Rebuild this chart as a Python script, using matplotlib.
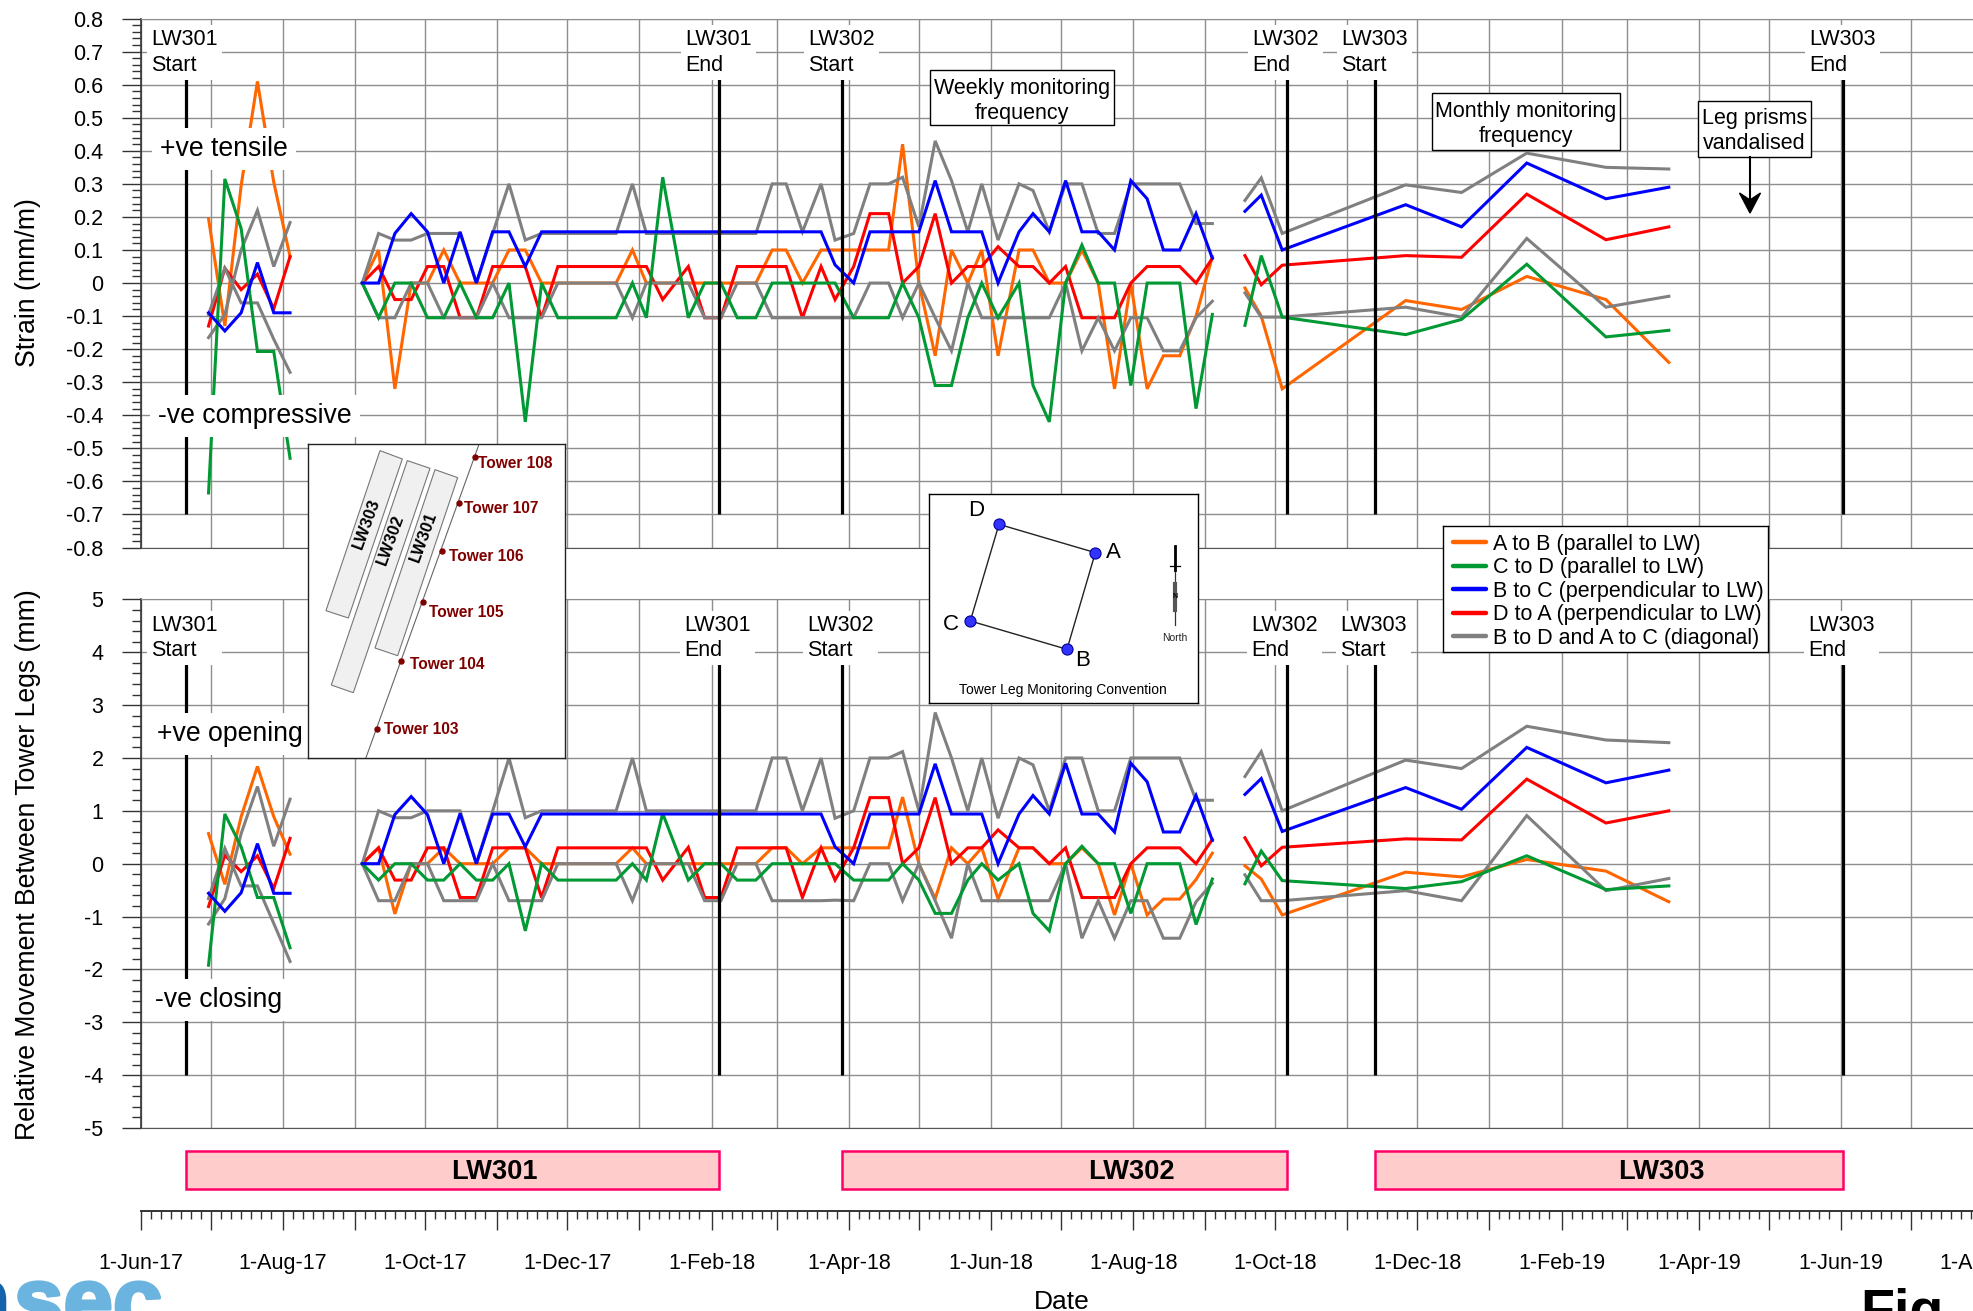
import datetime as dt
import numpy as np
import matplotlib
matplotlib.use("Agg")
import matplotlib.pyplot as plt
import matplotlib.dates as mdates
import matplotlib.patheffects as pe
from matplotlib.lines import Line2D
from matplotlib.patches import Rectangle, Polygon
from matplotlib.ticker import MultipleLocator, FixedLocator, FuncFormatter

plt.rcParams['font.family'] = ['Liberation Sans', 'DejaVu Sans']

n = np.nan
# days since 1-Jun-17 of each survey; the nan rows in the series break the lines
survey_days = [29, 36, 43, 50, 57, 64, 80,
               95, 102, 109, 116, 123, 130, 137, 144, 151, 158, 165, 172, 179, 204, 211, 217, 224, 235, 242, 249, 256, 264, 271, 277, 284,
               292, 298, 306, 313, 321, 327, 334, 341, 348, 355, 361, 368, 377, 383, 390, 397, 404, 411, 418, 425, 432, 439, 446, 453, 460,
               467, 474, 481, 490, 543, 567, 595, 629, 656]

strain_ab = [.195, -.13, .295, .61, .305, .08, n,
             0, .1, -.32, 0, 0, .1, 0, 0, 0, .1, .1, 0, 0, 0, .1, 0, 0, 0, 0, 0, 0, 0, .1, .1, 0,
             .1, .1, .1, .1, .1, .42, 0, -.22, .1, 0, .1, -.22, .1, .1, 0, 0, .1, 0, -.32, 0, -.32, -.22, -.22, -.1, .08,
             n, -.015, -.1, -.32, -.053, -.08, .02, -.05, -.24]
strain_cd = [-.635, .315, .165, -.207, -.207, -.53, n,
             0, -.105, 0, 0, -.105, -.105, 0, -.105, -.105, 0, -.42, 0, -.105, -.105, 0, -.105, .32, -.105, 0, 0, -.105, -.105, 0, 0, 0,
             0, 0, -.105, -.105, -.105, 0, -.105, -.31, -.31, -.105, 0, -.105, 0, -.31, -.42, 0, .115, 0, 0, -.31, 0, 0, 0, -.38, -.095,
             n, -.128, .083, -.103, -.156, -.11, .057, -.163, -.143]
strain_bc = [-.09, -.145, -.09, .062, -.09, -.09, n,
             0, 0, .15, .21, .155, 0, .155, 0, .155, .155, .05, .155, .155, .155, .155, .155, .155, .155, .155, .155, .155, .155, .155, .155, .155,
             .155, .055, 0, .155, .155, .155, .155, .31, .155, .155, .155, 0, .155, .21, .155, .31, .155, .155, .1, .31, .255, .1, .1, .21, .075,
             n, .217, .266, .1, .237, .17, .363, .255, .29]
strain_da = [-.13, .045, -.02, .027, -.078, .08, n,
             0, .05, -.05, -.05, .05, .05, -.105, -.105, .05, .05, .05, -.105, .05, .05, .05, .05, -.05, .05, -.105, -.105, .05, .05, .05, .05, -.105,
             .05, -.05, .05, .21, .21, 0, .05, .21, 0, .05, .05, .11, .05, .05, 0, .05, -.105, -.105, -.105, 0, .05, .05, .05, 0, .075,
             n, .083, -.005, .054, .083, .078, .269, .131, .17]
strain_diag1 = [-.165, -.095, .1, .22, .05, .183, n,
                0, .15, .13, .13, .15, .15, .15, 0, .15, .3, .13, .15, .15, .15, .3, .15, .15, .15, .15, .15, .15, .15, .3, .3, .155,
                .3, .13, .15, .3, .3, .32, .17, .43, .31, .155, .3, .13, .3, .28, .155, .3, .3, .15, .15, .3, .3, .3, .3, .18, .18,
                n, .25, .318, .15, .297, .274, .393, .35, .345]
strain_diag2 = [-.095, .045, -.06, -.06, -.17, -.27, n,
                0, -.105, -.105, 0, 0, -.105, -.105, -.105, 0, -.105, -.105, -.105, 0, 0, -.105, 0, 0, 0, -.105, -.105, 0, 0, -.105, -.105, -.105,
                -.105, -.105, -.105, 0, 0, -.105, 0, -.105, -.205, 0, -.105, -.105, -.105, -.105, -.105, 0, -.205, -.105, -.205, -.105, -.105, -.205, -.205, -.105, -.055,
                n, -.03, -.103, -.103, -.073, -.103, .135, -.073, -.04]

move_ab = [.57, -.39, .89, 1.84, .89, .18, n,
           0, .3, -.95, 0, 0, .3, 0, 0, 0, .3, .3, 0, 0, 0, .3, 0, 0, 0, 0, 0, 0, 0, .3, .3, 0,
           .3, .3, .3, .3, .3, 1.26, 0, -.66, .3, 0, .3, -.67, .3, .3, 0, 0, .3, 0, -.97, 0, -.97, -.67, -.67, -.3, .2,
           n, -.04, -.29, -.97, -.16, -.25, .08, -.14, -.72]
move_cd = [-1.92, .94, .32, -.64, -.64, -1.59, n,
           0, -.31, 0, 0, -.31, -.31, 0, -.31, -.31, 0, -1.27, 0, -.31, -.31, 0, -.31, .95, -.31, 0, 0, -.31, -.31, 0, 0, 0,
           0, 0, -.31, -.31, -.31, 0, -.31, -.94, -.94, -.31, 0, -.31, 0, -.94, -1.27, 0, .33, 0, 0, -.94, 0, 0, 0, -1.15, -.29,
           n, -.38, .24, -.32, -.47, -.34, .15, -.49, -.42]
move_bc = [-.56, -.9, -.55, .38, -.56, -.56, n,
           0, 0, .93, 1.27, .93, 0, .95, 0, .94, .94, .32, .94, .94, .94, .94, .94, .94, .94, .94, .94, .94, .94, .94, .94, .94,
           .94, .32, 0, .94, .94, .94, .94, 1.89, .94, .94, .94, 0, .94, 1.29, .94, 1.9, .94, .94, .6, 1.9, 1.55, .6, .6, 1.29, .44,
           n, 1.31, 1.61, .61, 1.44, 1.03, 2.2, 1.53, 1.77]
move_da = [-.81, .16, -.15, .15, -.47, .48, n,
           0, .3, -.31, -.31, .3, .3, -.64, -.64, .3, .3, .3, -.64, .3, .3, .3, .3, -.31, .31, -.64, -.64, .3, .3, .3, .3, -.64,
           .3, -.31, .3, 1.25, 1.25, 0, .3, 1.25, 0, .3, .3, .64, .3, .3, 0, .3, -.64, -.64, -.64, 0, .3, .3, .3, 0, .46,
           n, .49, -.04, .31, .47, .45, 1.6, .77, 1.0]
move_diag1 = [-1.14, -.66, .57, 1.46, .33, 1.22, n,
              0, 1, .87, .87, 1, 1, 1, 0, 1, 2, .87, 1, 1, 1, 2, 1, 1, 1, 1, 1, 1, 1, 2, 2, 1,
              2, .86, 1, 2, 2, 2.12, 1, 2.86, 2, 1, 2, .86, 2, 1.87, 1, 2, 2, 1, 1, 2, 2, 2, 2, 1.2, 1.2,
              n, 1.65, 2.12, 1.0, 1.96, 1.8, 2.6, 2.34, 2.29]
move_diag2 = [-.66, .29, -.42, -.42, -1.13, -1.85, n,
              0, -.7, -.7, 0, 0, -.7, -.7, -.7, 0, -.7, -.7, -.7, 0, 0, -.7, 0, 0, 0, -.7, -.7, 0, 0, -.7, -.7, -.7,
              -.7, -.69, -.7, 0, 0, -.7, 0, -.7, -1.41, 0, -.7, -.7, -.7, -.7, -.7, 0, -1.41, -.7, -1.41, -.7, -.7, -1.41, -1.41, -.72, -.37,
              n, -.21, -.7, -.7, -.51, -.7, .91, -.51, -.28]

wall_names = ['LW301', 'LW302', 'LW303']
wall_start_days = [19.4, 301.2, 530]
wall_end_days = [248.3, 492, 731]

tower_names = ['Tower 108', 'Tower 107', 'Tower 106', 'Tower 105', 'Tower 104', 'Tower 103']
legend_labels = ['A to B (parallel to LW)', 'C to D (parallel to LW)', 'B to C (perpendicular to LW)',
                 'D to A (perpendicular to LW)', 'B to D and A to C (diagonal)']

ORANGE, GREEN, BLUE, RED, GREY = '#FF6600', '#009933', '#0000FF', '#FF0000', '#808080'
GRID = '#8e8e8e'
FS = 15.5
LS = 1.27

W, H = 1973, 1311
fig = plt.figure(figsize=(W / 100, H / 100), dpi=100, facecolor='white')


def px_axes(left, top, right, bottom, **kw):
    return fig.add_axes([left / W, 1 - bottom / H, (right - left) / W, (bottom - top) / H], **kw)


D0 = mdates.date2num(dt.date(2017, 6, 1))
X_L, PX_DAY = 141.0, 2.329
N_DAYS = 800
X_R = X_L + N_DAYS * PX_DAY
x = D0 + np.array(survey_days, dtype=float)

months = mdates.MonthLocator()


def style_panel(ax, ymin, ymax, major, minor, fmt):
    ax.set_xlim(D0, D0 + N_DAYS)
    ax.set_ylim(ymin, ymax)
    ax.xaxis.set_major_locator(months)
    ax.yaxis.set_major_locator(MultipleLocator(major))
    ax.yaxis.set_minor_locator(MultipleLocator(minor))
    ax.yaxis.set_major_formatter(FuncFormatter(fmt))
    ax.tick_params(axis='x', which='both', length=0, labelbottom=False)
    ax.tick_params(axis='y', which='major', length=14, width=1, pad=13, labelsize=FS, color='#333333')
    ax.tick_params(axis='y', which='minor', length=6.2, width=1, color='#333333')
    ax.grid(True, which='major', color=GRID, lw=1.0)
    ax.set_axisbelow(True)
    ax.spines['right'].set_visible(False)
    ax.spines['top'].set_color(GRID)
    ax.spines['bottom'].set_color('#555555')
    ax.spines['left'].set_color('#333333')
    ax.spines['left'].set_linewidth(1.2)


def draw_series(ax, ab, cd, bc, da, d1, d2, line_top, line_bottom):
    for vals, col, z in [(ab, ORANGE, 3), (da, RED, 4), (d1, GREY, 5), (d2, GREY, 5), (cd, GREEN, 6), (bc, BLUE, 7)]:
        ax.plot(x, np.array(vals, dtype=float), color=col, lw=2.2, zorder=z, solid_joinstyle='miter')
    for d in wall_start_days + wall_end_days:
        ax.plot([D0 + d, D0 + d], [line_bottom, line_top], color='black', lw=2.3, zorder=8, solid_capstyle='butt')


ax1 = px_axes(X_L, 18.6, X_R, 547.5)
style_panel(ax1, -0.8, 0.8, 0.1, 0.02, lambda v, p: '0' if abs(v) < 1e-9 else f'{v:.1f}')
draw_series(ax1, strain_ab, strain_cd, strain_bc, strain_da, strain_diag1, strain_diag2, 0.63, -0.7)

ax2 = px_axes(X_L, 599.4, X_R, 1128)
style_panel(ax2, -5, 5, 1, 0.2, lambda v, p: f'{v:.0f}'.replace('-0', '0'))
draw_series(ax2, move_ab, move_cd, move_bc, move_da, move_diag1, move_diag2, 3.84, -4)

# mining panel bars
ax3 = px_axes(X_L, 1150.7, X_R, 1189)
ax3.set_xlim(D0, D0 + N_DAYS)
ax3.set_ylim(0, 1)
ax3.axis('off')
ax3.barh([0.5] * 3, np.array(wall_end_days) - np.array(wall_start_days), left=D0 + np.array(wall_start_days),
         height=1, facecolor='#FFCCCC', edgecolor='#FF0066', linewidth=1.8, clip_on=False)

# date axis
ax4 = px_axes(X_L, 1210, X_R, 1211)
ax4.set_xlim(D0, D0 + N_DAYS)
ax4.set_yticks([])
for s in ['top', 'left', 'right']:
    ax4.spines[s].set_visible(False)
ax4.spines['bottom'].set_color('#333333')
ax4.spines['bottom'].set_linewidth(1.4)
ax4.xaxis.set_major_locator(months)
ax4.xaxis.set_major_formatter(FuncFormatter(
    lambda v, p: (lambda d: f'1-{d:%b}-{d:%y}' if d.month % 2 == 0 else '')(mdates.num2date(v))))
month_starts = [mdates.date2num(dt.date(2017 + (5 + i) // 12, (5 + i) % 12 + 1, 1)) for i in range(28)]
minor_positions = []
for a, b in zip(month_starts[:-1], month_starts[1:]):
    minor_positions += [a + k * 30 / 7 for k in range(1, 8) if a + k * 30 / 7 < b - 1]
ax4.xaxis.set_minor_locator(FixedLocator(minor_positions))
ax4.tick_params(axis='x', which='major', length=13.7, width=1, pad=16.5, labelsize=FS, color='#333333')
ax4.tick_params(axis='x', which='minor', length=6, width=1, color='#333333')

# overlay in pixel coordinates for annotations
ov = px_axes(0, 0, W, H, zorder=10)
ov.set_xlim(0, W)
ov.set_ylim(H, 0)
ov.axis('off')
ov.patch.set_alpha(0)

white = dict(facecolor='white', edgecolor='none', pad=3)


def block(x0, yc, s, fs=FS, box=white):
    return ov.text(x0, yc, s, fontsize=fs, ha='left', va='center', linespacing=LS, bbox=box, color='black')


for x0, yc, s in [(151.5, 52.5, 'LW301\nStart'), (685.5, 52.5, 'LW301\nEnd'), (808.5, 52.5, 'LW302\nStart'),
                  (1252.5, 52.5, 'LW302\nEnd'), (1341, 52.5, 'LW303\nStart'), (1809, 52.5, 'LW303\nEnd'),
                  (151.5, 638, 'LW301\nStart'), (684, 638, 'LW301\nEnd'), (807.5, 638, 'LW302\nStart'),
                  (1251.5, 638, 'LW302\nEnd'), (1340, 638, 'LW303\nStart'), (1808, 638, 'LW303\nEnd')]:
    block(x0, yc, s)

pad_box = dict(facecolor='white', edgecolor='none', pad=6)
block(160, 149, '+ve tensile', 19.2, pad_box)
block(158, 416, '-ve compressive', 19.2, pad_box)
block(157, 734, '+ve opening', 19.2, pad_box)
block(155, 1000, '-ve closing', 19.2, pad_box)

for (l, t, r, b, s, dy) in [(930, 70, 1114, 125, 'Weekly monitoring\nfrequency', 3.5),
                            (1432, 93, 1620, 149.5, 'Monthly monitoring\nfrequency', 2.5),
                            (1698, 101, 1811, 157, 'Leg prisms\nvandalised', 2)]:
    ov.add_patch(Rectangle((l, t), r - l, b - t, facecolor='white', edgecolor='black', lw=1))
    ov.text((l + r) / 2, (t + b) / 2 + dy, s, fontsize=FS, ha='center', va='center', linespacing=LS)

ov.plot([1750, 1750], [157, 205], color='black', lw=1.5)
ov.add_patch(Polygon([(1750, 213), (1739.5, 193), (1750, 200), (1760.5, 193)], closed=True, color='black'))

for name, xc in zip(wall_names, [494.5, 1131, 1661]):
    ov.text(xc, 1172, name, fontsize=19.6, fontweight='bold', ha='center', va='center')

ov.text(28, 283, 'Strain (mm/m)', fontsize=19.2, rotation=90, ha='center', va='center')
ov.text(28, 865, 'Relative Movement Between Tower Legs (mm)', fontsize=19.2, rotation=90, ha='center', va='center')
ov.text(1061.5, 1309, 'Date', fontsize=19, ha='center', va='baseline')

# cropped logo and figure caption at the page edge
ov.text(14, 1330, 'sec', fontsize=64, fontweight='bold', color='#6CB4E0', ha='left', va='baseline',
        path_effects=[pe.withStroke(linewidth=2.5, foreground='#6CB4E0')])
ov.text(10, 1330, 'm', fontsize=64, fontweight='bold', color='#1464AC', ha='right', va='baseline',
        path_effects=[pe.withStroke(linewidth=2.5, foreground='#1464AC')])
ov.text(1860, 1328, 'Fig', fontsize=40, fontweight='bold', color='black', ha='left', va='baseline')

# legend
handles = [Line2D([0], [0], color=c, lw=3.2, solid_capstyle='round') for c in [ORANGE, GREEN, BLUE, RED, GREY]]
leg_ax = px_axes(1443.3, 525.7, 1768, 651.7, zorder=12)
leg_ax.set_xticks([])
leg_ax.set_yticks([])
for sp in leg_ax.spines.values():
    sp.set_linewidth(1.0)
    sp.set_color('black')
leg_ax.legend(handles, legend_labels, loc='center left', bbox_to_anchor=(0, 0.48), frameon=False, fontsize=FS,
              handlelength=1.53, handletextpad=0.33, labelspacing=0.12, borderaxespad=0, borderpad=0.45)

# inset: site plan, coordinates of the drawing
m = px_axes(308.3, 444.3, 564.7, 757.7, zorder=11)
m.set_xlim(25, 794)
m.set_ylim(953, 13)
m.set_xticks([])
m.set_yticks([])
for sp in m.spines.values():
    sp.set_linewidth(1.0)
    sp.set_color('#222222')
for poly in [[(240, 32), (307, 57), (145, 534), (78, 512)],
             [(322, 62), (390, 85), (160, 758), (94, 735)],
             [(405, 89), (473, 113), (293, 647), (225, 624)]]:
    m.add_patch(Polygon(poly, closed=True, facecolor='#F0F0F0', edgecolor='#777777', lw=0.8))
m.plot([537, 198], [13, 953], color='#666666', lw=0.8)
tower_dots_x = [524, 477, 425, 368, 302, 230]
tower_dots_y = [50, 188, 332, 487, 664, 867]
tower_label_x = [535, 493, 447, 387, 329, 251]
tower_label_y = [72, 207, 351, 516, 672, 867]
m.plot(tower_dots_x, tower_dots_y, 'o', color='#800000', ms=3.6, ls='none')
for name, tx, ty in zip(tower_names, tower_label_x, tower_label_y):
    m.text(tx, ty, name, color='#800000', fontsize=11.2, fontweight='bold', ha='left', va='center')
for name, tx, ty in [('LW303', 200, 250), ('LW302', 273, 300), ('LW301', 372, 292)]:
    m.text(tx, ty, name, color='black', fontsize=11.9, fontweight='bold', rotation=70, ha='center', va='center')

# inset: leg convention
c = px_axes(929.3, 494, 1197.7, 703.3, zorder=11)
c.set_xlim(28, 833)
c.set_ylim(640, 12)
c.set_xticks([])
c.set_yticks([])
for sp in c.spines.values():
    sp.set_linewidth(1.0)
    sp.set_color('black')
leg_x = [526, 441, 151, 237]
leg_y = [188, 478, 393, 103]
c.plot(leg_x + leg_x[:1], leg_y + leg_y[:1], color='#222222', lw=1.0)
c.plot(leg_x, leg_y, 'o', ms=8, mfc='#3333FF', mec='#000099', mew=0.8, ls='none')
for s, tx, ty in [('A', 580, 188), ('B', 488, 513), ('C', 93, 403), ('D', 168, 63)]:
    c.text(tx, ty, s, fontsize=16, ha='center', va='center')
c.text(428, 600, 'Tower Leg Monitoring Convention', fontsize=10, ha='center', va='center')
c.plot([765, 765], [168, 405], color='#333333', lw=0.9)
c.plot([765, 765], [168, 240], color='black', lw=2.0)
c.plot([765, 765], [283, 360], color='#555555', lw=3.0)
c.plot([749, 781], [227, 227], color='black', lw=0.9)
c.text(765, 320, 'N', fontsize=5, fontweight='bold', ha='center', va='center')
c.text(763, 443, 'North', fontsize=7.5, ha='center', va='center', color='#222222')

fig.savefig('out.png', dpi=100, facecolor='white')
